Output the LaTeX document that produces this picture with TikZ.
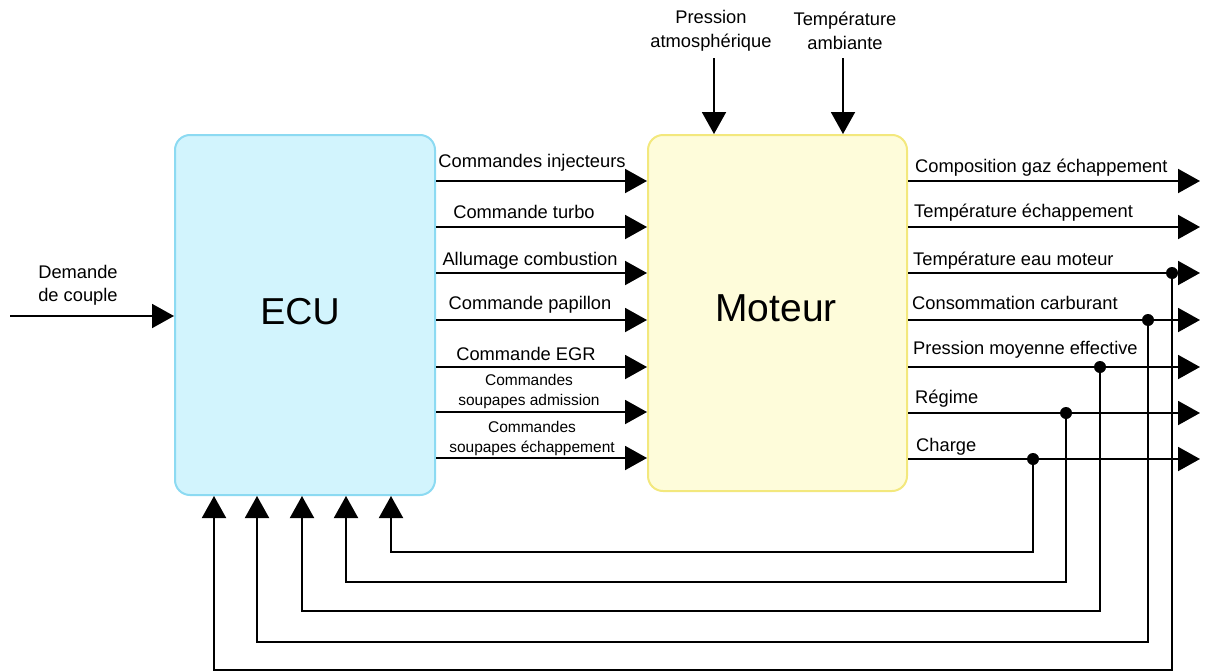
\documentclass[tikz,border=0pt]{standalone}
\usepackage{fontspec}
\setmainfont{Liberation Sans}
\usetikzlibrary{arrows.meta}
\definecolor{ecufill}{RGB}{210,244,253}
\definecolor{ecudraw}{RGB}{140,218,242}
\definecolor{motfill}{RGB}{254,252,218}
\definecolor{motdraw}{RGB}{243,232,125}
\tikzset{
  box/.style={rounded corners=15pt, line width=2pt, inner sep=0pt},
  arr/.style={line width=2pt, -{Triangle[length=22pt,width=24pt]}},
  lab/.style={font=\fontsize{18.3}{23}\selectfont, inner sep=0pt, align=center},
  slab/.style={font=\fontsize{15.5}{20}\selectfont, inner sep=0pt, align=center},
  olab/.style={font=\fontsize{18.3}{23}\selectfont, inner sep=0pt, anchor=west},
  dot/.style={circle, fill=black, inner sep=0pt, minimum size=12pt}
}
\begin{document}
\begin{tikzpicture}[x=1pt,y=-1pt]
\useasboundingbox (0,0) rectangle (1205,672);
% boxes
\node[box, draw=ecudraw, fill=ecufill, minimum width=260pt, minimum height=360pt] (ECU) at (305,315) {};
\node[font=\fontsize{37.5}{40}\selectfont] at (300,312) {ECU};
\node[box, draw=motdraw, fill=motfill, minimum width=259pt, minimum height=356pt] (Mot) at (777.5,313) {};
\node[font=\fontsize{39}{42}\selectfont] at (776,308) {Moteur};
% input demande
\coordinate (din) at (10,316);
\draw[arr] (din) -- (ECU.west |- din);
\node[lab] (ldem) at (78,285) {Demande\\de couple};
% top inputs
\coordinate (pa) at (714,58);
\coordinate (ta) at (843,58);
\draw[arr] (pa) -- (pa |- Mot.north);
\draw[arr] (ta) -- (ta |- Mot.north);
\node[lab, font=\fontsize{18.3}{24}\selectfont] (lpa) at (711,31) {Pression\\atmosphérique};
\node[lab, font=\fontsize{18.3}{24}\selectfont] (lta) at (845,31) {Température\\ambiante};
% ECU -> Moteur
\foreach \y in {181,227,273,320,367,412,458}{
  \draw[arr] (ECU.east |- 0,\y) -- (Mot.west |- 0,\y);
}
\node[lab] (c1) at (532,163) {Commandes injecteurs};
\node[lab] (c2) at (524,212) {Commande turbo};
\node[lab] (c3) at (530,261) {Allumage combustion};
\node[lab] (c4) at (530,305) {Commande papillon};
\node[lab] (c5) at (526,354) {Commande EGR};
\node[slab] (c6) at (529,391) {Commandes\\soupapes admission};
\node[slab] (c7) at (532,438) {Commandes\\soupapes échappement};
% outputs
\foreach \y/\n in {181/o1,227/o2,273/o3,320/o4,367/o5,413/o6,459/o7}{
  \coordinate (\n) at (1200,\y);
  \draw[arr] (Mot.east |- \n) -- (\n);
}
\node[olab] (l1) at (915,168) {Composition gaz échappement};
\node[olab] (l2) at (914,213) {Température échappement};
\node[olab] (l3) at (913,261) {Température eau moteur};
\node[olab] (l4) at (912,303) {Consommation carburant};
\node[olab] (l5) at (913,350) {Pression moyenne effective};
\node[olab] (l6) at (915,399) {Régime};
\node[olab] (l7) at (916,447) {Charge};
% feedback
\coordinate (d3) at (1172,273);
\coordinate (d4) at (1148,320);
\coordinate (d5) at (1100,367);
\coordinate (d6) at (1066,413);
\coordinate (d7) at (1033,459);
\draw[arr] (d7) -- (1033,552) -| (391,0 |- ECU.south);
\draw[arr] (d6) -- (1066,582) -| (346,0 |- ECU.south);
\draw[arr] (d5) -- (1100,611) -| (302,0 |- ECU.south);
\draw[arr] (d4) -- (1148,642) -| (257,0 |- ECU.south);
\draw[arr] (d3) -- (1172,670) -| (214,0 |- ECU.south);
\foreach \d in {d3,d4,d5,d6,d7}{ \node[dot] at (\d) {}; }
\end{tikzpicture}
\end{document}
